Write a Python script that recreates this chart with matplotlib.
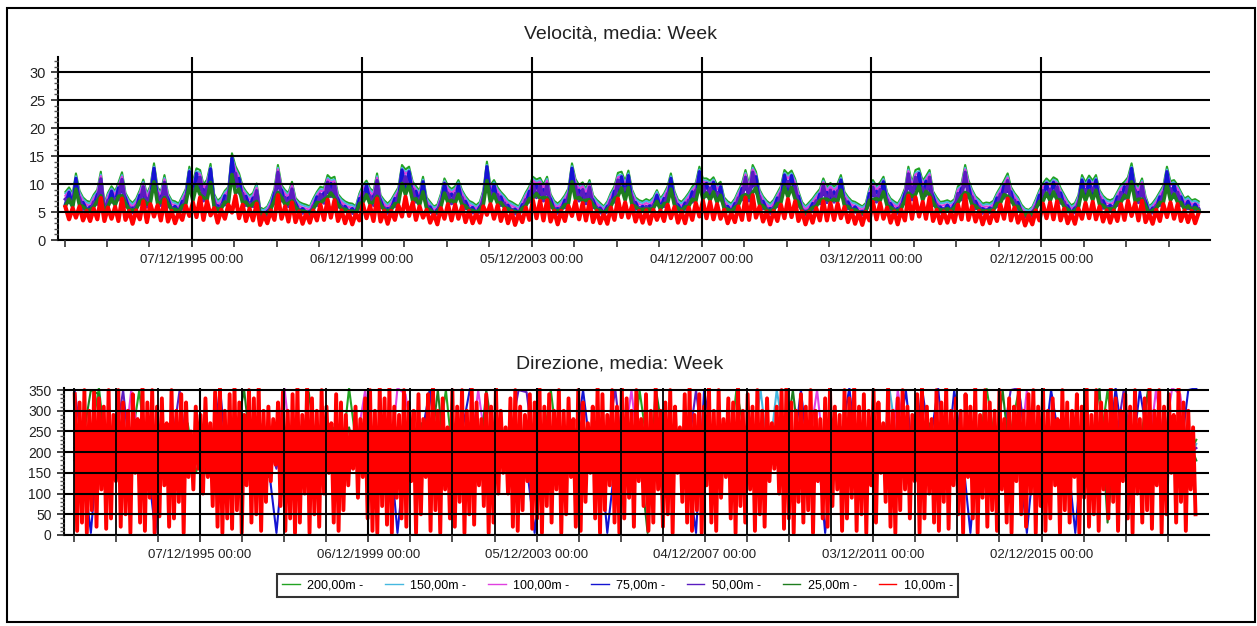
import numpy as np
import pandas as pd
import matplotlib.pyplot as plt
import matplotlib.dates as mdates
from matplotlib.ticker import MultipleLocator
from matplotlib.patches import Rectangle

plt.rcParams['font.family'] = ['Liberation Sans', 'DejaVu Sans']


def series(text):
    return np.array(text.split(), dtype=float)


heights = ['200,00m', '150,00m', '100,00m', '75,00m', '50,00m', '25,00m', '10,00m']
colors = ['#22a322', '#45b8e0', '#e040e0', '#1414d2', '#5a1cc0', '#1e7d1e', '#ff0000']

# monthly samples of the weekly speed, Dec 1992 .. Aug 2019 (one row per year)
vel_dates = pd.date_range('1992-12-01', '2019-08-01', freq='MS') + pd.Timedelta(days=14)

vel_200 = series("""
8.6
9.4 8.2 11.9 8.8 7.6 7.0 6.8 8.1 9.0 12.2 6.5 8.4
9.6 8.7 10.2 12.1 8.4 7.2 6.6 7.4 8.9 10.8 8.2 9.7
13.7 9.4 8.6 11.6 8.3 7.1 6.9 6.5 7.8 9.1 13.1 10.4
12.8 12.5 9.9 10.8 13.6 8.2 7.0 7.6 8.8 9.5 15.5 13.2
11.9 9.6 8.7 7.9 8.4 10.1 5.8 5.5 6.0 7.3 9.2 13.4
9.8 8.9 8.4 10.4 7.5 6.8 6.5 6.3 6.0 7.4 8.6 9.5
9.3 11.6 11.0 11.3 8.2 7.4 6.9 6.6 6.5 6.0 8.3 9.8
10.6 9.2 8.7 11.9 8.0 7.1 6.5 7.2 8.3 9.4 13.4 12.6
13.1 10.4 9.6 8.8 11.3 7.6 6.8 6.0 6.3 8.2 11.0 9.7
9.1 9.6 10.7 8.9 7.8 7.0 6.7 6.2 6.8 8.9 14.0 9.8
10.7 9.4 8.6 7.9 7.1 6.8 6.4 6.0 7.2 8.5 9.6 11.3
10.8 11.1 9.9 11.3 8.2 7.0 6.5 7.1 8.0 9.2 13.7 10.9
9.8 10.3 9.1 10.7 8.0 7.2 6.6 6.0 6.9 8.4 9.6 12.0
12.2 10.5 12.4 9.0 7.6 7.1 6.9 7.3 7.0 7.6 8.9 7.4
8.3 9.6 11.9 8.7 7.2 6.8 7.5 8.4 9.5 10.2 13.1 11.0
11.0 10.6 11.2 9.8 10.4 7.6 6.9 6.5 7.4 8.8 10.1 12.5
9.9 13.4 12.2 9.0 7.8 7.0 6.5 7.2 8.4 9.6 12.5 11.8
12.4 10.9 8.7 6.8 6.0 6.7 7.4 8.3 9.1 11.0 9.4 10.2
9.5 10.1 11.6 8.6 7.7 7.0 6.8 6.4 6.0 6.6 9.2 10.7
9.6 10.3 11.3 8.5 7.4 6.9 6.5 7.6 9.2 13.1 10.2 12.5
12.8 10.6 11.4 12.5 8.7 7.6 6.8 6.9 7.1 6.8 7.3 9.6
10.1 13.4 10.7 9.0 7.8 7.2 6.5 6.7 6.6 7.0 8.4 9.5
10.6 11.9 9.5 8.4 7.6 6.3 5.6 5.4 5.9 7.3 8.9 10.1
11.0 10.4 11.2 10.8 9.3 8.1 7.0 6.2 6.6 8.0 11.6 10.3
11.5 10.6 11.6 8.9 7.9 7.3 7.1 7.4 8.6 9.8 10.4 11.2
13.7 10.2 9.4 11.0 7.8 6.0 6.6 7.5 8.6 9.7 13.1 10.5
10.7 9.8 8.6 7.4 7.8 7.1 7.3 6.9
""")

vel_150 = series("""
8.3
9.0 7.9 11.4 8.5 7.3 6.7 6.5 7.8 8.6 11.7 6.2 8.1
9.2 8.4 9.8 11.6 8.1 6.9 6.3 7.1 8.5 10.4 7.9 9.3
13.1 9.0 8.3 11.1 8.0 6.8 6.6 6.2 7.5 8.8 12.6 10.0
12.3 12.0 9.5 10.4 13.0 7.9 6.7 7.3 8.5 9.1 14.9 12.7
11.4 9.2 8.4 7.6 8.1 9.7 5.5 5.3 5.8 7.0 8.8 12.9
9.4 8.6 8.1 10.0 7.2 6.5 6.2 6.0 5.8 7.1 8.3 9.1
8.9 11.1 10.6 10.8 7.9 7.1 6.6 6.3 6.2 5.8 8.0 9.4
10.2 8.9 8.4 11.4 7.7 6.8 6.2 6.9 8.0 9.0 12.9 12.1
12.6 10.0 9.2 8.5 10.8 7.3 6.5 5.8 6.0 7.9 10.6 9.3
8.8 9.2 10.3 8.6 7.5 6.7 6.4 5.9 6.5 8.6 13.4 9.4
10.3 9.0 8.3 7.6 6.8 6.5 6.1 5.8 6.9 8.2 9.2 10.9
10.4 10.7 9.5 10.9 7.9 6.7 6.2 6.8 7.7 8.8 13.2 10.5
9.4 9.9 8.8 10.3 7.7 6.9 6.3 5.8 6.6 8.1 9.2 11.5
11.7 10.1 11.9 8.7 7.3 6.8 6.6 7.0 6.7 7.3 8.6 7.1
8.0 9.2 11.4 8.4 6.9 6.5 7.2 8.1 9.1 9.8 12.6 10.6
10.6 10.2 10.8 9.4 10.0 7.3 6.6 6.2 7.1 8.5 9.7 12.0
9.5 12.9 11.7 8.7 7.5 6.7 6.2 6.9 8.1 9.2 12.0 11.3
11.9 10.5 8.4 6.5 5.8 6.4 7.1 8.0 8.7 10.6 9.0 9.8
9.1 9.7 11.1 8.3 7.4 6.7 6.5 6.1 5.8 6.3 8.9 10.3
9.2 9.9 10.9 8.2 7.1 6.6 6.2 7.3 8.8 12.6 9.8 12.0
12.3 10.2 11.0 12.0 8.4 7.3 6.5 6.6 6.8 6.5 7.0 9.2
9.7 12.9 10.3 8.7 7.5 6.9 6.2 6.4 6.3 6.7 8.1 9.1
10.2 11.4 9.1 8.1 7.3 6.0 5.4 5.2 5.7 7.0 8.6 9.7
10.6 10.0 10.8 10.4 8.9 7.8 6.7 5.9 6.3 7.7 11.1 9.9
11.0 10.2 11.1 8.6 7.6 7.0 6.8 7.1 8.3 9.4 10.0 10.8
13.1 9.8 9.0 10.6 7.5 5.8 6.3 7.2 8.3 9.3 12.6 10.1
10.3 9.4 8.3 7.1 7.5 6.8 7.0 6.6
""")

vel_100 = series("""
7.9
8.7 7.5 11.1 8.1 6.9 6.3 6.1 7.4 8.3 11.4 5.8 7.7
8.9 8.0 9.5 11.3 7.7 6.5 5.9 6.7 8.2 10.1 7.5 9.0
12.9 8.7 7.9 10.8 7.6 6.4 6.2 5.8 7.1 8.4 12.3 9.7
12.0 11.7 9.2 10.1 12.8 7.5 6.3 6.9 8.1 8.8 14.6 12.4
11.1 8.9 8.0 7.2 7.7 9.3 5.1 4.9 5.4 6.6 8.5 12.6
9.1 8.2 7.7 9.7 6.8 6.1 5.8 5.6 5.4 6.7 7.9 8.8
8.6 10.8 10.3 10.5 7.5 6.7 6.2 5.9 5.8 5.4 7.6 9.1
9.9 8.5 8.0 11.1 7.3 6.4 5.8 6.5 7.6 8.7 12.6 11.8
12.3 9.7 8.9 8.1 10.5 6.9 6.1 5.4 5.7 7.5 10.3 9.0
8.4 8.9 10.0 8.2 7.1 6.3 6.0 5.6 6.1 8.2 13.1 9.1
10.0 8.7 7.9 7.2 6.5 6.1 5.8 5.4 6.5 7.8 8.9 10.6
10.1 10.4 9.2 10.6 7.5 6.3 5.8 6.4 7.3 8.5 12.9 10.2
9.1 9.6 8.4 10.0 7.3 6.5 6.0 5.4 6.2 7.7 8.9 11.2
11.4 9.8 11.6 8.3 6.9 6.4 6.2 6.6 6.3 6.9 8.2 6.7
7.6 8.9 11.1 8.0 6.5 6.1 6.8 7.7 8.8 9.5 12.3 10.3
10.3 9.9 10.5 9.1 9.7 6.9 6.2 5.8 6.7 8.1 9.4 11.7
9.2 12.6 11.4 8.3 7.1 6.3 5.8 6.5 7.7 8.9 11.7 11.0
11.6 10.2 8.0 6.1 5.4 6.0 6.7 7.6 8.4 10.3 8.7 9.5
8.8 9.4 10.8 7.9 7.0 6.3 6.1 5.7 5.4 5.9 8.5 10.0
8.9 9.6 10.6 7.8 6.7 6.2 5.8 6.9 8.5 12.3 9.5 11.7
12.0 9.9 10.7 11.7 8.0 6.9 6.1 6.2 6.4 6.1 6.6 8.9
9.4 12.6 10.0 8.3 7.1 6.5 5.8 6.0 5.9 6.3 7.7 8.8
9.9 11.1 8.8 7.7 6.9 5.7 5.0 4.8 5.3 6.6 8.2 9.4
10.3 9.7 10.5 10.1 8.6 7.4 6.3 5.6 5.9 7.3 10.8 9.6
10.7 9.9 10.8 8.2 7.2 6.6 6.4 6.7 7.9 9.1 9.7 10.5
12.8 9.5 8.7 10.3 7.1 5.4 5.9 6.8 7.9 9.0 12.3 9.8
10.0 9.1 7.9 6.7 7.1 6.4 6.6 6.2
""")

vel_75 = series("""
6.4
8.5 6.2 11.0 6.6 6.7 5.4 5.9 6.1 8.1 8.9 5.6 6.3
8.7 6.5 9.3 8.8 7.5 5.5 5.7 5.6 8.0 7.9 7.3 7.2
12.8 7.0 7.7 8.5 7.4 5.4 6.0 5.0 6.9 6.8 12.2 7.7
11.9 9.1 9.0 7.9 12.7 6.2 6.1 5.8 7.9 7.1 14.6 9.6
11.0 7.1 7.8 6.0 7.5 7.5 4.9 4.3 5.1 5.6 8.3 9.7
8.9 6.7 7.5 7.7 6.6 5.2 5.6 4.9 5.1 5.6 7.7 7.1
8.4 8.5 10.1 8.3 7.3 5.6 6.0 5.1 5.6 4.7 7.4 7.3
9.7 6.9 7.8 8.7 7.1 5.4 5.6 5.5 7.4 7.0 12.5 9.2
12.2 7.7 8.7 6.6 10.4 5.8 5.9 4.7 5.4 6.2 10.1 7.2
8.2 7.1 9.8 6.7 6.9 5.4 5.8 4.8 5.9 6.7 13.1 7.3
9.8 7.0 7.7 6.0 6.2 5.2 5.5 4.7 6.3 6.4 8.7 8.3
9.9 8.1 9.0 8.3 7.3 5.4 5.6 5.4 7.1 6.9 12.8 8.0
8.9 7.6 8.2 7.9 7.1 5.5 5.7 4.7 6.0 6.3 8.7 8.8
11.3 7.7 11.5 6.7 6.7 5.4 6.0 5.6 6.1 5.8 8.0 5.6
7.4 7.1 11.0 6.5 6.3 5.2 6.6 6.3 8.6 7.5 12.2 8.1
10.1 7.8 10.3 7.3 9.5 5.8 6.0 5.0 6.5 6.6 9.2 9.1
9.0 9.7 11.3 6.7 6.9 5.4 5.6 5.5 7.5 7.1 11.6 8.6
11.5 8.0 7.8 5.2 5.1 5.2 6.5 6.2 8.2 8.1 8.5 7.5
8.6 7.5 10.7 6.4 6.8 5.4 5.9 5.0 5.1 5.1 8.3 7.9
8.7 7.6 10.4 6.4 6.5 5.3 5.6 5.8 8.3 9.5 9.3 9.1
11.9 7.8 10.5 9.1 7.8 5.8 5.9 5.3 6.2 5.2 6.4 7.1
9.2 9.7 9.8 6.7 6.9 5.5 5.6 5.2 5.7 5.4 7.5 7.1
9.7 8.7 8.6 6.3 6.7 4.9 4.7 4.3 5.0 5.6 8.0 7.5
10.1 7.7 10.3 8.0 8.4 6.1 6.1 4.8 5.7 6.0 10.7 7.6
10.6 7.8 10.7 6.7 7.0 5.6 6.2 5.6 7.7 7.3 9.5 8.2
12.8 7.5 8.5 8.1 6.9 4.7 5.7 5.7 7.7 7.2 12.2 7.7
9.8 7.3 7.7 5.6 6.9 5.4 6.4 5.3
""")

vel_50 = series("""
7.3
6.7 6.9 8.4 7.5 5.5 5.7 5.0 6.8 6.4 10.9 4.8 7.1
6.8 7.4 7.2 10.8 6.0 5.9 4.9 6.1 6.4 9.5 5.9 8.4
9.5 8.1 6.2 10.3 6.0 5.8 5.1 5.2 5.6 7.8 9.1 9.1
8.9 11.2 7.0 9.5 9.5 6.9 5.1 6.3 6.3 8.2 10.7 11.9
8.4 8.3 6.2 6.6 6.0 8.8 4.3 4.2 4.5 6.0 6.6 12.1
7.0 7.6 6.0 9.1 5.5 5.5 4.8 5.0 4.5 6.1 6.2 8.2
6.6 10.3 7.8 10.0 5.9 6.1 5.1 5.3 4.8 4.7 6.0 8.5
7.5 7.9 6.2 10.6 5.8 5.8 4.8 5.9 6.0 8.1 9.3 11.3
9.1 9.1 6.8 7.5 8.0 6.3 5.0 4.7 4.7 6.9 7.8 8.4
6.5 8.3 7.6 7.6 5.6 5.7 4.9 4.9 5.0 7.6 9.7 8.5
7.6 8.1 6.2 6.6 5.2 5.5 4.7 4.7 5.3 7.2 6.8 10.0
7.6 9.8 7.0 10.0 5.9 5.7 4.8 5.8 5.8 7.9 9.5 9.6
7.0 9.0 6.5 9.4 5.8 5.9 4.9 4.7 5.1 7.1 6.8 10.7
8.6 9.2 8.7 7.7 5.5 5.8 5.1 6.0 5.1 6.3 6.4 6.1
6.0 8.3 8.4 7.4 5.3 5.5 5.5 7.1 6.8 8.9 9.1 9.7
7.8 9.3 7.9 8.5 7.4 6.3 5.1 5.2 5.4 7.5 7.2 11.2
7.0 12.1 8.6 7.7 5.6 5.7 4.8 5.9 6.0 8.3 8.8 10.5
8.7 9.6 6.2 5.5 4.5 5.4 5.4 7.0 6.5 9.7 6.7 8.9
6.8 8.8 8.2 7.3 5.6 5.7 5.0 5.1 4.5 5.3 6.6 9.4
6.8 9.0 8.0 7.2 5.4 5.6 4.8 6.3 6.6 11.8 7.2 11.2
8.9 9.3 8.0 11.2 6.2 6.3 5.0 5.6 5.2 5.5 5.3 8.3
7.2 12.1 7.6 7.7 5.6 5.9 4.8 5.4 4.9 5.7 6.0 8.2
7.5 10.6 6.8 7.1 5.5 5.0 4.2 4.1 4.4 6.0 6.4 8.8
7.8 9.1 7.9 9.5 6.6 6.8 5.1 4.9 4.9 6.7 8.2 9.0
8.1 9.3 8.2 7.6 5.7 6.0 5.2 6.1 6.2 8.5 7.4 9.9
9.5 8.9 6.7 9.7 5.6 4.7 4.9 6.2 6.2 8.4 9.1 9.2
7.6 8.5 6.2 6.1 5.6 5.8 5.3 5.6
""")

vel_25 = series("""
6.1
7.3 5.9 9.1 6.2 6.0 5.3 5.4 5.9 7.0 7.9 5.2 6.0
7.4 6.2 7.8 7.9 6.5 5.4 5.3 5.5 6.9 7.2 6.4 6.7
10.4 6.5 6.7 7.6 6.5 5.4 5.5 5.1 6.1 6.4 9.9 7.0
9.7 8.1 7.6 7.2 10.3 5.9 5.5 5.6 6.8 6.6 11.7 8.4
9.1 6.6 6.8 5.8 6.5 6.9 4.7 4.6 4.8 5.5 7.1 8.5
7.6 6.3 6.5 7.0 5.9 5.2 5.2 5.0 4.8 5.5 6.7 6.6
7.2 7.6 8.4 7.5 6.4 5.5 5.5 5.1 5.2 4.8 6.5 6.7
8.1 6.4 6.8 7.8 6.3 5.4 5.2 5.4 6.5 6.5 10.1 8.1
9.9 7.0 7.4 6.2 8.6 5.6 5.4 4.8 5.0 5.9 8.4 6.7
7.1 6.6 8.2 6.3 6.1 5.3 5.3 4.9 5.4 6.3 10.6 6.7
8.2 6.5 6.7 5.8 5.6 5.2 5.1 4.8 5.7 6.1 7.4 7.5
8.3 7.4 7.6 7.5 6.4 5.3 5.2 5.4 6.3 6.4 10.4 7.3
7.6 7.0 7.1 7.2 6.3 5.4 5.3 4.8 5.5 6.0 7.4 7.8
9.3 7.1 9.4 6.3 6.0 5.4 5.5 5.5 5.5 5.6 6.9 5.5
6.5 6.6 9.1 6.2 5.7 5.2 5.9 6.0 7.3 6.9 9.9 7.3
8.4 7.1 8.6 6.7 8.0 5.6 5.5 5.1 5.8 6.2 7.8 8.1
7.6 8.5 9.3 6.3 6.1 5.3 5.2 5.4 6.5 6.6 9.5 7.7
9.4 7.3 6.8 5.2 4.8 5.2 5.8 6.0 7.1 7.3 7.3 6.9
7.3 6.9 8.9 6.1 6.0 5.3 5.4 5.0 4.8 5.1 7.1 7.2
7.4 7.0 8.6 6.1 5.8 5.3 5.2 5.6 7.1 8.4 7.8 8.1
9.7 7.1 8.7 8.1 6.8 5.6 5.4 5.3 5.6 5.2 5.8 6.6
7.8 8.5 8.2 6.3 6.1 5.4 5.2 5.2 5.3 5.3 6.5 6.6
8.1 7.8 7.3 6.0 6.0 5.0 4.5 4.5 4.7 5.5 6.9 6.9
8.4 7.0 8.6 7.2 7.2 5.9 5.5 4.9 5.3 5.8 8.9 7.0
8.8 7.1 8.9 6.3 6.2 5.5 5.6 5.5 6.7 6.7 8.0 7.4
10.4 6.9 7.3 7.3 6.1 4.8 5.3 5.6 6.7 6.7 9.9 7.1
8.2 6.7 6.7 5.5 6.1 5.4 5.8 5.3
""")

vel_10 = series("""
5.9
3.7 5.7 4.0 6.0 3.5 5.2 3.4 5.6 3.7 7.5 3.4 5.8
3.8 5.9 3.4 7.4 3.6 5.2 2.9 5.3 3.7 6.9 3.2 6.4
4.2 6.2 3.5 7.2 3.3 5.2 3.0 4.9 3.6 6.1 4.3 6.7
4.1 7.6 3.6 6.9 4.4 5.7 3.1 5.4 3.8 6.3 4.9 7.9
3.9 6.3 3.4 5.6 3.5 6.5 2.7 4.5 3.0 5.3 3.6 8.0
3.8 6.0 3.3 6.7 3.2 5.1 2.9 4.8 3.1 5.3 3.5 6.3
3.6 7.2 4.0 7.1 3.4 5.3 3.0 5.0 2.8 4.7 3.5 6.4
3.9 6.1 3.4 7.4 3.3 5.2 2.9 5.2 3.6 6.2 4.2 7.7
4.3 6.7 3.6 6.0 4.0 5.4 3.1 4.7 2.8 5.7 3.8 6.4
3.5 6.3 3.8 6.0 3.2 5.2 3.0 4.8 3.1 6.0 4.5 6.4
3.8 6.2 3.4 5.6 3.0 5.1 2.7 4.7 3.2 5.8 3.6 7.1
3.9 7.0 3.5 7.1 3.3 5.2 2.8 5.2 3.4 6.1 4.3 6.9
3.7 6.6 3.5 6.8 3.2 5.2 3.0 4.7 2.9 5.8 3.6 7.4
4.1 6.7 4.0 6.1 3.3 5.2 3.1 5.3 2.9 5.4 3.6 5.3
3.4 6.3 3.9 5.9 3.1 5.1 3.0 5.8 3.6 6.6 4.2 7.0
3.9 6.8 3.7 6.4 3.8 5.4 3.0 4.9 3.2 6.0 3.6 7.6
3.6 8.0 4.0 6.0 3.3 5.1 2.8 5.2 3.4 6.3 3.9 7.3
4.1 6.9 3.4 5.1 2.8 5.0 3.1 5.7 3.5 6.9 3.5 6.6
3.6 6.5 3.9 5.9 3.2 5.2 2.9 4.9 2.7 5.0 3.5 6.8
3.7 6.6 3.8 5.8 3.1 5.1 2.8 5.4 3.5 7.9 3.8 7.6
4.2 6.8 3.8 7.6 3.4 5.4 3.0 5.1 3.1 5.1 3.2 6.3
3.7 8.0 3.6 6.0 3.3 5.2 2.8 5.0 3.0 5.2 3.4 6.3
3.8 7.4 3.5 5.8 3.1 4.8 2.6 4.4 2.8 5.3 3.5 6.5
3.9 6.7 3.7 6.9 3.5 5.6 3.0 4.8 2.9 5.6 3.8 6.6
3.9 6.8 3.7 6.0 3.3 5.3 3.1 5.3 3.4 6.4 3.6 7.0
4.3 6.6 3.5 7.0 3.2 4.7 2.9 5.4 3.4 6.4 4.1 6.7
3.8 6.4 3.4 5.3 3.2 5.2 3.0 4.9
""")

# weekly direction, sampled every 3 weeks for 10 m and every 10 weeks for the others
dir10_dates = pd.date_range('1992-12-15', periods=464, freq='21D')
dir_dates = pd.date_range('1992-12-15', periods=140, freq='70D')

dir_10 = series("""
340 10 320 30 350 5 300 60 345 20 330 110 310 15 350 40
290 130 350 20 320 50 300 5 340 150 280 30 355 10 320 90
350 5 310 45 330 120 270 20 350 40 300 80 340 5 320 140
250 110 310 160 290 100 330 140 270 70 345 20 355 5 300 40
340 15 355 60 320 5 290 120 350 30 330 50 355 10 300 80
310 130 280 170 320 70 345 10 300 40 340 5 355 30 290 100
355 5 330 50 300 20 350 100 310 150 270 30 340 10 320 60
290 120 250 160 310 90 280 140 330 40 350 10 300 5 355 70
330 25 355 5 310 90 290 40 350 20 320 130 300 5 340 50
280 140 340 10 355 60 300 5 330 110 260 40 350 20 310 80
350 5 300 50 355 25 320 120 280 70 340 5 310 30 355 100
300 150 260 100 330 20 350 10 310 60 290 130 340 15 320 40
355 5 310 70 340 30 300 110 350 5 300 50 330 140 280 20
350 10 320 80 270 150 310 40 355 5 340 60 290 120 350 30
310 5 355 40 330 90 300 20 350 130 280 70 340 10 300 30
355 110 300 20 320 50 350 5 310 150 260 80 340 30 355 10
290 60 340 5 310 120 355 30 300 10 350 90 280 140 330 40
320 5 355 70 300 30 340 110 310 10 350 50 300 20 330 130
270 160 310 100 350 15 355 40 320 5 300 80 340 30 310 60
350 5 300 130 280 40 330 20 355 70 310 110 290 10 350 40
330 90 355 10 310 50 340 5 300 120 350 30 320 150 270 80
355 20 300 5 330 60 350 110 310 40 290 130 340 5 355 40
310 100 280 30 350 10 320 80 355 15 300 120 330 50 300 5
340 140 310 40 355 5 290 90 350 20 320 60 300 10 350 110
280 30 330 5 310 130 355 50 300 20 340 100 350 5 310 70
355 10 300 40 330 120 280 5 350 60 320 30 300 140 340 5
310 90 355 20 290 50 350 10 320 110 300 40 355 80 330 10
300 130 340 40 310 5 350 100 280 30 330 60 355 15 300 120
350 5 310 50 340 150 290 30 355 80 320 10 300 110 260 50
""")

dir_200 = series("""
200 150 240 355 180 260 140 220 350 170
230 160 250 190 270 150 210 240 130 260
180 220 150 270 200 240 160 230 190 250
140 210 260 170 355 200 150 240 180 220
260 130 230 190 350 210 350 160 240 200
170 250 140 220 260 180 230 150 210 350
190 240 160 270 200 140 230 180 250 160
350 210 170 240 150 260 190 220 140 230
200 170 350 250 160 220 190 240 150 210
260 180 230 140 200 250 170 220 190 240
150 260 200 170 230 140 210 250 180 220
160 240 190 355 230 170 250 350 200 140
230 180 260 150 210 240 170 200 350 190
250 160 220 340 180 240 150 210 190 230
""")

dir_150 = series("""
220 170 240 190 150 230 200 260 160 210
190 250 140 220 180 240 160 200 230 170
240 150 210 190 260 170 230 140 200 250
160 220 180 240 150 210 270 190 230 170
200 250 160 220 190 140 240 180 210 260
150 230 200 170 240 190 220 160 250 180
210 140 230 200 260 170 190 240 150 220
180 250 160 210 230 190 140 260 200 170
240 150 220 190 210 350 180 350 230 160
200 240 170 220 150 260 190 210 180 230
160 350 210 180 240 150 230 200 170 250
190 220 160 240 200 180 260 150 210 230
170 240 190 150 220 260 180 210 200 160
230 190 250 170 210 160 240 200 180 220
""")

dir_100 = series("""
190 240 160 220 200 250 170 350 230 180
210 150 260 190 230 170 240 200 160 220
180 250 140 230 190 210 355 170 240 200
160 220 190 250 170 230 350 180 210 150
355 340 200 170 240 190 220 160 250 180
350 210 170 240 150 220 190 260 180 230
200 160 240 190 220 150 250 180 210 350
170 230 190 210 160 250 200 140 240 180
220 170 250 190 210 160 230 200 140 240
190 220 350 170 240 200 150 230 180 260
210 160 350 220 190 250 170 230 200 150
240 180 210 160 230 200 250 170 350 190
220 150 240 200 180 260 170 210 190 230
160 240 200 180 350 220 355 340 190 210
""")

dir_75 = series("""
210 170 5 240 190 150 230 200 260 180
5 220 180 250 160 210 240 190 355 150
230 180 260 200 170 5 220 190 240 160
200 250 170 220 150 240 190 210 180 230
5 200 160 240 350 190 220 170 250 355
180 230 160 210 250 190 170 5 220 200
240 170 210 350 190 230 5 180 250 200
160 220 190 240 170 210 150 5 350 230
190 250 170 220 200 160 240 180 210 190
350 170 230 5 200 240 355 180 220 160
250 190 210 350 170 355 220 355 150 350
200 5 240 180 220 170 250 190 5 210
180 350 230 200 5 240 190 220 170 355
210 180 350 230 170 250 200 190 350 355
""")

dir_50 = series("""
350 200 170 240 190 220 350 160 230 200
180 250 210 350 170 230 190 240 150 210
200 170 240 190 220 160 250 180 210 230
170 220 190 250 160 230 200 180 240 150
210 190 230 170 250 200 160 220 180 240
190 230 160 210 240 350 345 190 220 170
250 180 210 160 230 200 240 350 180 220
160 240 190 210 170 250 200 350 180 230
210 160 240 190 220 170 250 200 180 230
170 210 240 160 220 190 250 180 200 230
190 240 160 220 200 170 250 190 230 180
220 170 240 190 160 230 350 355 200 180
240 190 210 170 250 200 180 230 160 220
350 200 170 240 190 220 180 250 200 210
""")

dir_25 = series("""
180 230 350 340 160 210 250 140 200 260
170 220 150 240 190 260 140 230 180 210
250 350 170 220 140 260 190 230 160 345
200 150 240 180 260 170 220 140 250 190
230 160 200 270 180 350 150 240 190 210
140 350 220 170 250 190 230 160 200 240
180 260 150 220 200 240 170 210 140 250
190 5 355 230 160 210 250 180 220 150
240 190 160 230 200 140 260 170 210 350
180 220 150 250 200 170 230 140 260 190
210 160 240 180 220 150 270 190 230 170
250 140 200 230 180 350 160 240 190 220
150 260 200 170 230 180 210 355 30 240
170 220 190 350 160 240 200 150 230 180
""")

speed = [vel_200, vel_150, vel_100, vel_75, vel_50, vel_25, vel_10]
speed_lw = [1.5, 1.5, 1.6, 2.4, 2.5, 2.6, 3.0]
direction = [dir_200, dir_150, dir_100, dir_75, dir_50, dir_25, dir_10]
dir_x = [dir_dates] * 6 + [dir10_dates]

# yearly ticks, labelled every fourth year
minor_ticks = pd.date_range('1992-12-07', periods=27, freq='365D')
major_ticks = minor_ticks[3::4]

W, H = 1257, 626
fig = plt.figure(figsize=(W / 100, H / 100), dpi=100)
ax1 = fig.add_axes([58 / W, 1 - 240 / H, (1210 - 58) / W, (240 - 57) / H])
ax2 = fig.add_axes([64 / W, 1 - 535 / H, (1209 - 64) / W, (535 - 388) / H])

for c, y, lw in zip(colors, speed, speed_lw):
    ax1.plot(vel_dates, y, color=c, lw=lw)

lines = []
for c, x, y, h in zip(colors, dir_x, direction, heights):
    lw = 2.8 if h == '10,00m' else 1.5
    ln, = ax2.plot(x, y, color=c, lw=lw)
    lines.append(ln)


def style(ax, xlim, ylim, ystep, yminor, ysize, minor_grid):
    ax.set_xlim(pd.Timestamp(xlim[0]), pd.Timestamp(xlim[1]))
    ax.set_ylim(*ylim)
    for s in ['top', 'right']:
        ax.spines[s].set_visible(False)
    for s in ['left', 'bottom']:
        ax.spines[s].set_linewidth(1.5)
    ax.set_xticks(mdates.date2num(major_ticks.to_pydatetime()))
    ax.set_xticks(mdates.date2num(minor_ticks.to_pydatetime()), minor=True)
    ax.xaxis.set_major_formatter(mdates.DateFormatter('%d/%m/%Y %H:%M'))
    ax.yaxis.set_major_locator(MultipleLocator(ystep))
    ax.yaxis.set_minor_locator(MultipleLocator(yminor))
    ax.tick_params(which='major', direction='out', length=5, width=1.2, color='black')
    ax.tick_params(which='minor', direction='out', length=3, width=1.0, color='#555555')
    ax.tick_params(axis='x', which='minor', length=5, width=1.2, color='#333333')
    ax.tick_params(axis='x', labelsize=9.5, pad=5, colors='#222222')
    ax.tick_params(axis='y', labelsize=ysize, pad=4, colors='#222222')
    ax.grid(axis='y', which='major', color='black', lw=1.5)
    ax.grid(axis='x', which='major', color='black', lw=1.5)
    if minor_grid:
        ax.grid(axis='x', which='minor', color='black', lw=1.3)
    ax.set_axisbelow(False)


style(ax1, ('1992-10-12', '2019-11-20'), (0, 32.7), 5, 1, 10.5, False)
style(ax2, ('1992-09-13', '2019-11-24'), (0, 355), 50, 10, 10, True)

fig.text(620 / W, 1 - 34 / H, 'Velocità, media: Week', ha='center', va='center',
         fontsize=14, color='#222222')
fig.text(620 / W, 1 - 364 / H, 'Direzione, media: Week', ha='center', va='center',
         fontsize=14, color='#222222')

leg = fig.legend(lines, [h + ' -' for h in heights], loc='center',
                 bbox_to_anchor=(617.5 / W, 1 - 585.5 / H), ncol=7, frameon=True,
                 fancybox=False, edgecolor='black', fontsize=9, handlelength=1.4,
                 handletextpad=0.6, columnspacing=1.75, borderpad=0.45)
leg.get_frame().set_linewidth(1.5)
for hl in leg.get_lines():
    hl.set_linewidth(1.0)

fig.patches.append(Rectangle((7 / W, 4 / H), (1255 - 7) / W, (620 - 6) / H,
                             transform=fig.transFigure, fill=False,
                             edgecolor='black', lw=1.5))

fig.savefig('out.png', dpi=100)
